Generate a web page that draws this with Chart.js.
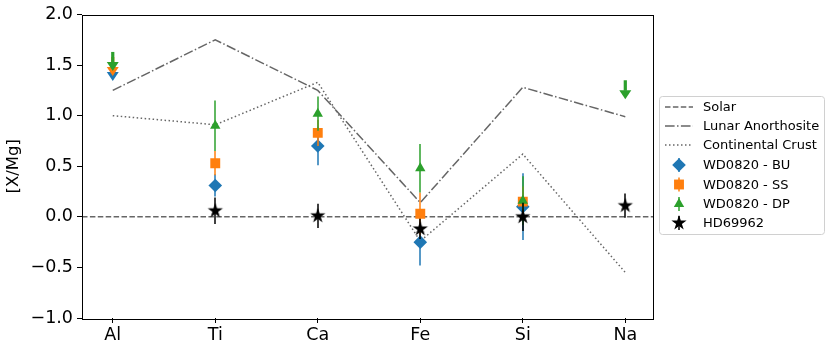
<!DOCTYPE html>
<html><head><meta charset="utf-8">
<script src="https://cdn.jsdelivr.net/npm/chart.js@4/dist/chart.umd.min.js"></script>
<style>html,body{margin:0;padding:0;background:#fff;}#wrap{width:831px;height:351px;position:relative;}</style>
</head><body><div id="wrap"><canvas id="c"></canvas></div>
<script>
// ---- data ----
const categories = ['Al', 'Ti', 'Ca', 'Fe', 'Si', 'Na'];
const solarLevel = 0;
const lunarAnorthosite = [1.25, 1.75, 1.25, 0.14, 1.28, 0.99];
const continentalCrust = [1.00, 0.91, 1.33, -0.24, 0.62, -0.55];
const wdBU      = [null, 0.31, 0.70, -0.25, 0.10, null];
const wdBUerr   = [null, 0.11, 0.19, 0.23, 0.33, null];
const wdBUlim   = [1.53, null, null, null, null, null];
const wdSS      = [null, 0.53, 0.83, 0.03, 0.15, null];
const wdSSerr   = [null, 0.12, 0.13, 0.21, 0.15, null];
const wdSSlim   = [1.58, null, null, null, null, null];
const wdDP      = [null, 0.90, 1.02, 0.48, 0.16, null];
const wdDPerr   = [null, 0.25, 0.17, 0.24, 0.24, null];
const wdDPlim   = [1.63, null, null, null, null, 1.35];
const hd69962    = [null, 0.06, 0.01, -0.12, 0.00, 0.11];
const hd69962err = [null, 0.13, 0.12, 0.10, 0.14, 0.12];
const yTickValues = [-1.0, -0.5, 0.0, 0.5, 1.0, 1.5, 2.0];
const xRange = [-0.3, 5.28];

// ---- styles ----
const C_BLUE = '#1f77b4', C_ORANGE = '#ff7f0e', C_GREEN = '#2ca02c', C_GRAY = '#666666';
const FONT = '"DejaVu Sans", sans-serif';
const DASH_SOLAR = [5.5, 2.4], DASH_LUNAR = [9.6, 2.4, 1.5, 2.4], DASH_CRUST = [1.5, 2.5];

function makeStar(r, color) {
  const s = Math.ceil(r * 2 + 2);
  const c = document.createElement('canvas');
  c.width = c.height = s;
  const g = c.getContext('2d');
  g.beginPath();
  for (let k = 0; k < 10; k++) {
    const rr = k % 2 ? r * 0.382 : r;
    const a = -Math.PI / 2 + k * Math.PI / 5;
    g.lineTo(s / 2 + rr * Math.cos(a), s / 2 + rr * Math.sin(a));
  }
  g.closePath();
  g.fillStyle = color;
  g.fill();
  return c;
}
const starImg = makeStar(8, '#000');

const pts = arr => arr.map((v, i) => v == null ? null : { x: i, y: v }).filter(p => p);

const datasets = [
  { label: 'Solar', data: [{ x: xRange[0], y: solarLevel }, { x: xRange[1], y: solarLevel }],
    showLine: true, borderColor: C_GRAY, borderWidth: 1.5, borderDash: DASH_SOLAR, pointRadius: 0, order: 7 },
  { label: 'Lunar Anorthosite', data: pts(lunarAnorthosite), showLine: true, borderColor: C_GRAY,
    borderWidth: 1.5, borderDash: DASH_LUNAR, pointRadius: 0, order: 6 },
  { label: 'Continental Crust', data: pts(continentalCrust), showLine: true, borderColor: C_GRAY,
    borderWidth: 1.5, borderDash: DASH_CRUST, pointRadius: 0, order: 5 },
  { label: 'WD0820 - BU', data: pts(wdBU), values: wdBU, errors: wdBUerr, limits: wdBUlim,
    pointStyle: 'rectRot', pointRadius: 6.8, backgroundColor: C_BLUE, borderColor: C_BLUE, borderWidth: 0, order: 4 },
  { label: 'WD0820 - SS', data: pts(wdSS), values: wdSS, errors: wdSSerr, limits: wdSSlim,
    pointStyle: 'rect', pointRadius: 7, backgroundColor: C_ORANGE, borderColor: C_ORANGE, borderWidth: 0, order: 3 },
  { label: 'WD0820 - DP', data: pts(wdDP), values: wdDP, errors: wdDPerr, limits: wdDPlim,
    pointStyle: 'triangle', pointRadius: 6, backgroundColor: C_GREEN, borderColor: C_GREEN, borderWidth: 0, order: 2 },
  { label: 'HD69962', data: pts(hd69962), values: hd69962, errors: hd69962err,
    pointStyle: starImg, pointRadius: 8, backgroundColor: '#000', borderColor: '#000', borderWidth: 0, order: 1 }
];

const errorPlugin = {
  id: 'errbars',
  beforeDatasetDraw(chart, args) {
    const ds = chart.data.datasets[args.index];
    if (!ds.errors) return;
    const ctx = chart.ctx, xs = chart.scales.x, ys = chart.scales.y;
    ctx.save();
    ctx.strokeStyle = ds.borderColor; ctx.lineWidth = 1.5;
    ds.values.forEach((v, i) => {
      if (v == null || ds.errors[i] == null) return;
      const x = Math.round(xs.getPixelForValue(i));
      ctx.beginPath();
      ctx.moveTo(x, ys.getPixelForValue(v + ds.errors[i]));
      ctx.lineTo(x, ys.getPixelForValue(v - ds.errors[i]));
      ctx.stroke();
    });
    ctx.restore();
  },
  afterDatasetDraw(chart, args) {
    const ds = chart.data.datasets[args.index];
    if (!ds.limits) return;
    const ctx = chart.ctx, xs = chart.scales.x, ys = chart.scales.y;
    ctx.save();
    ctx.fillStyle = ds.borderColor;
    ds.limits.forEach((v, i) => {
      if (v == null) return;
      const x = xs.getPixelForValue(i), y = ys.getPixelForValue(v);
      ctx.fillRect(x - 1.6, y, 3.2, 10.5);
      ctx.beginPath();
      ctx.moveTo(x - 6, y + 10); ctx.lineTo(x + 6, y + 10); ctx.lineTo(x, y + 19);
      ctx.closePath(); ctx.fill();
    });
    ctx.restore();
  }
};

const framePlugin = {
  id: 'frame',
  afterDatasetsDraw(chart) {
    const a = chart.chartArea, ctx = chart.ctx;
    ctx.save();
    ctx.strokeStyle = '#000'; ctx.lineWidth = 1;
    ctx.strokeRect(Math.round(a.left) + 0.5, Math.round(a.top) + 0.5,
      Math.round(a.right - a.left) - 1, Math.round(a.bottom - a.top));
    ctx.restore();
  }
};

function drawMarker(ctx, ds, x, y) {
  ctx.fillStyle = ds.backgroundColor; ctx.strokeStyle = ds.backgroundColor; ctx.lineWidth = 0.001;
  Chart.helpers.drawPoint(ctx, { pointStyle: ds.pointStyle, radius: ds.pointRadius, rotation: 0, borderWidth: 0 }, x, y);
}

const legendPlugin = {
  id: 'customLegend',
  afterDraw(chart) {
    const ctx = chart.ctx;
    const box = { x: 659.5, y: 96.5, w: 165, h: 138 };
    ctx.save();
    ctx.beginPath();
    ctx.roundRect(box.x, box.y, box.w, box.h, 3);
    ctx.fillStyle = 'rgba(255,255,255,0.85)'; ctx.fill();
    ctx.strokeStyle = '#d0d0d0'; ctx.lineWidth = 1; ctx.stroke();
    const rows = [107, 126, 145, 165, 184.5, 204, 223];
    const hx0 = 665, hx1 = 693, hxc = 679, tx = 703;
    chart.data.datasets.forEach((ds, k) => {
      const y = rows[k];
      if (k < 3) {
        ctx.save();
        ctx.strokeStyle = ds.borderColor; ctx.lineWidth = 1.5; ctx.setLineDash(ds.borderDash);
        ctx.beginPath(); ctx.moveTo(hx0, y); ctx.lineTo(hx1, y); ctx.stroke();
        ctx.restore();
      } else {
        ctx.save();
        ctx.strokeStyle = ds.borderColor; ctx.lineWidth = 1.5;
        ctx.beginPath(); ctx.moveTo(hxc, y - 7); ctx.lineTo(hxc, y + 7); ctx.stroke();
        drawMarker(ctx, ds, hxc, y);
        ctx.restore();
      }
      ctx.fillStyle = '#000';
      ctx.font = '13px ' + FONT;
      ctx.textBaseline = 'middle'; ctx.textAlign = 'left';
      ctx.fillText(ds.label, tx, y + 1);
    });
    ctx.restore();
  }
};

new Chart(document.getElementById('c'), {
  type: 'scatter',
  data: { datasets },
  options: {
    responsive: true, maintainAspectRatio: false, animation: false,
    layout: { padding: { top: 14, right: 177, left: 0, bottom: 0 } },
    plugins: { legend: { display: false }, tooltip: { enabled: false } },
    scales: {
      x: {
        type: 'linear', min: xRange[0], max: xRange[1],
        afterFit: s => { s.height = 33; },
        afterBuildTicks: s => { s.ticks = categories.map((c, i) => ({ value: i })); },
        ticks: { callback: v => categories[v], color: '#000', font: { family: FONT, size: 17.5 }, padding: 2, maxRotation: 0, autoSkip: false },
        grid: { display: true, drawOnChartArea: false, drawTicks: true, tickLength: 5, color: '#000', tickWidth: 1 },
        border: { display: false }
      },
      y: {
        min: yTickValues[0], max: yTickValues[yTickValues.length - 1],
        afterFit: s => { s.width = 82; },
        afterBuildTicks: s => { s.ticks = yTickValues.map(v => ({ value: v })); },
        ticks: { callback: v => v.toFixed(1).replace('-', '\u2212'), color: '#000', font: { family: FONT, size: 17.5 }, padding: 4 },
        grid: { display: true, drawOnChartArea: false, drawTicks: true, tickLength: 5, color: '#000', tickWidth: 1 },
        border: { display: false },
        title: { display: true, text: '[X/Mg]', color: '#000', font: { family: FONT, size: 16.5 }, padding: { top: 4, bottom: 0 } }
      }
    }
  },
  plugins: [errorPlugin, framePlugin, legendPlugin]
});
</script></body></html>
